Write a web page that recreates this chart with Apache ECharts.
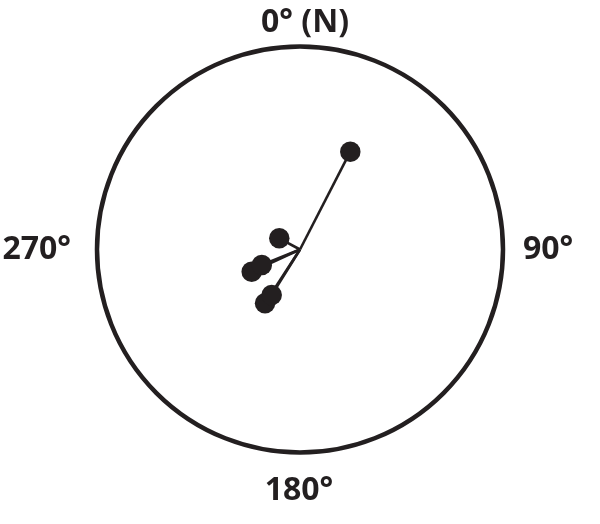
<!DOCTYPE html>
<html>
<head>
<meta charset="utf-8">
<script src="https://cdn.jsdelivr.net/npm/echarts@6/dist/echarts.min.js"></script>
<style>html,body{margin:0;padding:0;background:#fff}#c{width:600px;height:524px}</style>
</head>
<body>
<div id="c"></div>
<script>
// Direction of each vector (degrees clockwise from north)
const angles = [27.2, 298.4, 245.3, 248.0, 213.0, 211.9];
// Length of each vector (fraction of the circle's radius)
const radii = [0.542, 0.116, 0.262, 0.203, 0.316, 0.264];
// Angle tick labels
const tickValues = [0, 90, 180, 270];
const tickLabels = ['0° (N)', '90°', '180°', '270°'];
const tickStyles = ['t', 'r', 'b', 'l'];

const ink = '#231f20';
const chart = echarts.init(document.getElementById('c'), null, {renderer: 'canvas'});

const lineSeries = angles.map((a, i) => ({
  type: 'line',
  coordinateSystem: 'polar',
  data: [[0, a], [radii[i], a]],
  symbol: 'none',
  silent: true,
  lineStyle: {color: ink, width: 2.6},
  z: 2
}));

const font = {color: ink, fontFamily: 'Open Sans', fontWeight: 'bold', fontSize: 32};

chart.setOption({
  animation: false,
  backgroundColor: '#fff',
  polar: {center: [300, 249.5], radius: 203},
  angleAxis: {
    type: 'value', min: 0, max: 360, interval: 90,
    startAngle: 90, clockwise: true,
    axisLine: {show: true, lineStyle: {color: ink, width: 4.5}},
    axisTick: {show: false},
    splitLine: {show: false},
    axisLabel: Object.assign({
      show: true, margin: 8,
      formatter: v => {
        const k = tickValues.indexOf(v);
        return k >= 0 && v < 360 ? '{' + tickStyles[k] + '|' + tickLabels[k] + '}' : '';
      },
      rich: {
        t: Object.assign({padding: [0, 0, 0, 10]}, font),
        r: Object.assign({padding: [0, 0, 0, 12]}, font),
        b: Object.assign({padding: [14, 2, 0, 0]}, font),
        l: Object.assign({padding: [0, 18, 0, 0]}, font)
      }
    }, font)
  },
  radiusAxis: {
    type: 'value', min: 0, max: 1,
    axisLine: {show: false}, axisTick: {show: false}, axisLabel: {show: false}, splitLine: {show: false}
  },
  series: lineSeries.concat([{
    type: 'scatter',
    coordinateSystem: 'polar',
    data: angles.map((a, i) => [radii[i], a]),
    symbol: 'circle', symbolSize: 20.5,
    itemStyle: {color: ink, opacity: 1},
    z: 3
  }])
});
</script>
</body>
</html>
